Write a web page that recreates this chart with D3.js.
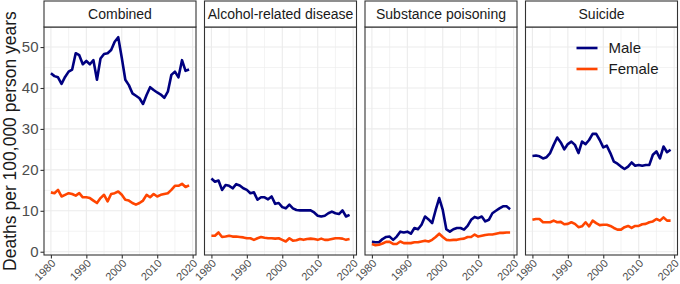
<!DOCTYPE html>
<html>
<head>
<meta charset="utf-8">
<script src="https://cdn.jsdelivr.net/npm/d3@7"></script>
<style>
  body { margin: 0; background: #fff; }
  svg { font-family: "Liberation Sans", Arial, sans-serif; display: block; }
</style>
</head>
<body>
<div id="chart"></div>
<script>
// data
const years = d3.range(1980, 2020);
const panels = ["Combined", "Alcohol-related disease", "Substance poisoning", "Suicide"];
const seriesNames = ["Male", "Female"];

const combinedMale = [43.6, 42.9, 42.6, 41.0, 42.7, 44.0, 44.5, 48.5, 48.0, 45.8,
  46.6, 45.8, 46.8, 42.0, 47.2, 48.3, 48.5, 49.3, 51.3, 52.4,
  47.4, 42.0, 40.7, 38.7, 38.1, 37.5, 36.1, 38.3, 40.2, 39.5,
  38.9, 38.4, 37.6, 39.1, 43.2, 44.0, 42.6, 46.8, 44.2, 44.5];
const combinedFemale = [14.5, 14.3, 15.1, 13.5, 13.9, 14.3, 14.1, 13.7, 14.3, 13.3,
  13.3, 13.1, 12.5, 11.9, 13.1, 13.9, 12.3, 14.1, 14.3, 14.7,
  13.9, 12.7, 12.5, 11.9, 11.5, 11.9, 12.5, 13.9, 13.3, 14.1,
  13.5, 13.9, 14.1, 14.3, 15.1, 16.1, 16.1, 16.6, 15.8, 16.2];
const alcoholMale = [17.9, 17.1, 17.4, 15.1, 16.3, 16.1, 15.5, 16.5, 16.2, 15.5,
  15.1, 14.3, 14.5, 12.7, 13.3, 13.3, 12.8, 13.5, 11.7, 11.9,
  10.9, 10.6, 11.5, 10.6, 10.2, 10.1, 10.1, 10.1, 10.1, 9.6,
  8.8, 8.6, 8.8, 9.4, 9.8, 9.4, 9.2, 10.1, 8.6, 9.0];
const alcoholFemale = [3.9, 3.9, 4.7, 3.6, 3.7, 3.9, 3.7, 3.7, 3.6, 3.5,
  3.3, 3.3, 2.9, 3.3, 3.6, 3.4, 3.3, 3.3, 3.2, 3.3,
  2.9, 2.5, 3.3, 2.7, 2.8, 3.1, 2.9, 3.1, 3.2, 3.1,
  2.9, 3.2, 2.9, 2.9, 3.1, 3.3, 3.3, 3.2, 2.9, 3.1];
const substanceMale = [2.4, 2.3, 2.3, 3.1, 3.6, 3.7, 2.9, 3.7, 4.9, 4.7,
  4.9, 4.4, 5.8, 5.5, 6.6, 8.6, 7.9, 7.0, 10.2, 13.1,
  10.2, 5.5, 4.9, 5.5, 5.8, 5.8, 5.4, 6.3, 7.8, 8.5,
  8.2, 8.6, 7.4, 7.8, 9.4, 10.0, 10.6, 11.1, 11.1, 10.4];
const substanceFemale = [1.9, 1.6, 1.7, 2.0, 2.4, 2.4, 1.9, 1.9, 2.5, 2.1,
  2.1, 2.1, 2.3, 2.3, 2.5, 2.7, 2.5, 2.9, 3.6, 4.4,
  3.6, 2.9, 2.8, 2.9, 2.9, 3.1, 3.2, 3.6, 3.6, 4.2,
  3.7, 3.9, 4.1, 4.2, 4.2, 4.4, 4.6, 4.6, 4.7, 4.7];
const suicideMale = [23.4, 23.5, 23.3, 22.8, 23.1, 24.1, 26.1, 27.9, 26.7, 25.0,
  26.3, 26.9, 26.1, 24.1, 26.9, 26.3, 27.3, 28.8, 28.8, 27.3,
  25.5, 25.9, 24.1, 22.0, 21.5, 20.8, 20.2, 20.8, 21.8, 21.0,
  21.2, 21.0, 21.2, 21.2, 23.7, 24.5, 22.8, 25.7, 24.3, 24.9];
const suicideFemale = [7.8, 8.0, 8.0, 7.2, 7.2, 7.2, 7.6, 7.2, 7.3, 6.7,
  6.8, 7.2, 6.8, 6.0, 6.2, 7.2, 6.2, 7.6, 7.0, 6.5,
  6.6, 6.6, 6.3, 5.8, 5.4, 5.4, 6.0, 6.3, 5.8, 6.3,
  6.3, 6.7, 6.8, 7.2, 7.4, 8.0, 7.6, 8.4, 7.6, 7.6];

const xTicks = [1980, 1990, 2000, 2010, 2020];
const yTicks = [0, 10, 20, 30, 40, 50];

const panelData = [
  [combinedMale, combinedFemale],
  [alcoholMale, alcoholFemale],
  [substanceMale, substanceFemale],
  [suicideMale, suicideFemale],
];
const colors = ["#000080", "#FF4500"];

const width = 680, height = 284;
const margin = { top: 27, left: 44, bottom: 29 };
const panelW = 152, panelStep = 160.5;
const stripH = 26;
const plotH = height - margin.top - margin.bottom;

const svg = d3.select("#chart").append("svg")
  .attr("width", width).attr("height", height);

const x = d3.scaleLinear().domain([1978.05, 2020.95]).range([0, panelW]);
const y = d3.scaleLinear().domain([-0.8, 54.9]).range([plotH, 0]);

const line = d3.line()
  .x((d, i) => x(years[i]))
  .y(d => y(d));

panels.forEach((name, p) => {
  const g = svg.append("g")
    .attr("transform", `translate(${margin.left + p * panelStep},${margin.top})`);

  // grid
  const minorY = [5, 15, 25, 35, 45];
  const minorX = [1985, 1995, 2005, 2015];
  g.selectAll(".gy-minor").data(minorY).join("line")
    .attr("x1", 0).attr("x2", panelW)
    .attr("y1", d => y(d)).attr("y2", d => y(d))
    .attr("stroke", "#EBEBEB").attr("stroke-width", 0.6);
  g.selectAll(".gx-minor").data(minorX).join("line")
    .attr("y1", 0).attr("y2", plotH)
    .attr("x1", d => x(d)).attr("x2", d => x(d))
    .attr("stroke", "#EBEBEB").attr("stroke-width", 0.6);
  g.append("g").selectAll("line").data(yTicks).join("line")
    .attr("x1", 0).attr("x2", panelW)
    .attr("y1", d => y(d)).attr("y2", d => y(d))
    .attr("stroke", "#EBEBEB").attr("stroke-width", 1.1);
  g.append("g").selectAll("line").data(xTicks).join("line")
    .attr("y1", 0).attr("y2", plotH)
    .attr("x1", d => x(d)).attr("x2", d => x(d))
    .attr("stroke", "#EBEBEB").attr("stroke-width", 1.1);

  // series
  panelData[p].forEach((vals, s) => {
    g.append("path")
      .datum(vals)
      .attr("d", line)
      .attr("fill", "none")
      .attr("stroke", colors[s])
      .attr("stroke-width", 2.6)
      .attr("stroke-linejoin", "round")
      .attr("stroke-linecap", "butt");
  });

  // panel border
  g.append("rect")
    .attr("width", panelW).attr("height", plotH)
    .attr("fill", "none").attr("stroke", "#333333").attr("stroke-width", 1.1);

  // strip
  g.append("rect")
    .attr("y", -stripH).attr("width", panelW).attr("height", stripH)
    .attr("fill", "#fff").attr("stroke", "#333333").attr("stroke-width", 1.1);
  g.append("text")
    .attr("x", panelW / 2).attr("y", -stripH / 2)
    .attr("dy", "0.36em")
    .attr("text-anchor", "middle")
    .attr("font-size", 14)
    .attr("fill", "#1A1A1A")
    .text(name);

  // x axis
  const xAxis = g.append("g")
    .attr("transform", `translate(0,${plotH})`)
    .call(d3.axisBottom(x).tickValues(xTicks).tickFormat(d3.format("d")).tickSize(3.5));
  xAxis.select(".domain").remove();
  xAxis.selectAll("line").attr("stroke", "#333333").attr("stroke-width", 1.1);
  xAxis.selectAll("text")
    .attr("font-size", 11)
    .attr("fill", "#4D4D4D")
    .attr("text-anchor", "end")
    .attr("y", 0)
    .attr("dy", 0)
    .attr("transform", "translate(5,9) rotate(-45)");

  // y axis only on the first panel
  if (p === 0) {
    const yAxis = g.append("g")
      .call(d3.axisLeft(y).tickValues(yTicks).tickSize(3.5).tickPadding(2));
    yAxis.select(".domain").remove();
    yAxis.selectAll("line").attr("stroke", "#333333").attr("stroke-width", 1.1);
    yAxis.selectAll("text").attr("font-size", 15).attr("fill", "#4D4D4D");
  }

  // legend inside the last panel
  if (p === panels.length - 1) {
    const lg = g.append("g").attr("transform", "translate(51,21)");
    seriesNames.forEach((n, s) => {
      lg.append("line")
        .attr("x1", 0).attr("x2", 21)
        .attr("y1", s * 21).attr("y2", s * 21)
        .attr("stroke", colors[s]).attr("stroke-width", 2.6);
      lg.append("text")
        .attr("x", 32).attr("y", s * 21)
        .attr("dy", "0.36em")
        .attr("font-size", 15)
        .attr("fill", "#1A1A1A")
        .text(n);
    });
  }
});

// y axis title
svg.append("text")
  .attr("transform", `translate(16,141) rotate(-90)`)
  .attr("text-anchor", "middle")
  .attr("font-size", 17.5)
  .attr("fill", "#1A1A1A")
  .text("Deaths per 100,000 person years");
</script>
</body>
</html>
